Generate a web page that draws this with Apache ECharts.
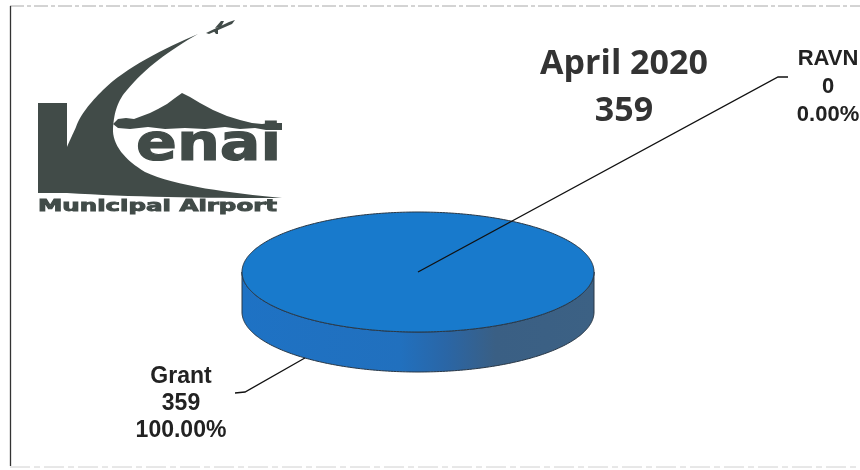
<!DOCTYPE html>
<html>
<head>
<meta charset="utf-8">
<script src="https://cdn.jsdelivr.net/npm/echarts@6/dist/echarts.min.js"></script>
<style>
  html, body { margin: 0; padding: 0; background: #ffffff; }
  #chart { width: 860px; height: 470px; }
</style>
</head>
<body>
<div id="chart"></div>
<script>
// ---- data ----
const categories = ['Grant', 'RAVN'];
const values = [359, 0];
const chartTitle = 'April 2020';

// ---- layout / style ----
const PIE = { cx: 418, cy: 272, rx: 176, ry: 60, depth: 40, startAngle: 40 };
const LABELS = [
  { x: 181, y: 404, lineHeight: 27, font: 'bold 23px "Liberation Sans", Arial, sans-serif', elbow: [245, 392], end: [235, 393] },
  { x: 828, y: 87, lineHeight: 28, font: 'bold 22px "Liberation Sans", Arial, sans-serif', elbow: [778, 77], end: [788, 77] }
];
const TOP_COLOR = '#187acc';
const EDGE_COLOR = '#2a3846';
const LOGO_COLOR = '#414b48';

const total = values.reduce((a, b) => a + b, 0);
const rad = a => a * Math.PI / 180;
function pt(a, dy) {
  return [PIE.cx + PIE.rx * Math.sin(rad(a)), PIE.cy - PIE.ry * Math.cos(rad(a)) + (dy || 0)];
}
function arcPoints(a1, a2, dy) {
  const pts = [];
  const n = Math.max(2, Math.ceil(Math.abs(a2 - a1)));
  for (let k = 0; k <= n; k++) pts.push(pt(a1 + (a2 - a1) * k / n, dy));
  return pts;
}
// cubic-bezier outline helper for the logo
function outline(start, segs) {
  const pts = [start];
  let cur = start;
  segs.forEach(s => {
    if (s.length === 1) { pts.push(s[0]); cur = s[0]; return; }
    const [c1, c2, p] = s;
    for (let k = 1; k <= 16; k++) {
      const t = k / 16, u = 1 - t;
      pts.push([
        u*u*u*cur[0] + 3*u*u*t*c1[0] + 3*u*t*t*c2[0] + t*t*t*p[0],
        u*u*u*cur[1] + 3*u*u*t*c1[1] + 3*u*t*t*c2[1] + t*t*t*p[1]
      ]);
    }
    cur = p;
  });
  return pts;
}

function renderItem(params, api) {
  const i = params.dataIndex;
  const v = api.value(0);
  let before = 0;
  for (let j = 0; j < i; j++) before += values[j];
  const a1 = PIE.startAngle + before / total * 360;
  const a2 = a1 + v / total * 360;
  const children = [];
  if (a2 > a1) {
    [[90, 270], [450, 630]].forEach(r => {
      const s = Math.max(a1, r[0]), e = Math.min(a2, r[1]);
      if (e > s) {
        const pts = arcPoints(s, e, 0).concat(arcPoints(e, s, PIE.depth));
        children.push({
          type: 'polygon',
          shape: { points: pts },
          style: {
            fill: new echarts.graphic.LinearGradient(0, 0, 1, 0, [
              { offset: 0, color: '#1e72c4' },
              { offset: 0.45, color: '#2170be' },
              { offset: 0.58, color: '#2a66a6' },
              { offset: 0.72, color: '#3a5f84' },
              { offset: 1, color: '#3c6184' }
            ]),
            stroke: EDGE_COLOR, lineWidth: 1
          }
        });
      }
    });
    const full = (a2 - a1) >= 359.999;
    const topPts = full ? arcPoints(a1, a2, 0) : [[PIE.cx, PIE.cy]].concat(arcPoints(a1, a2, 0));
    children.push({
      type: 'polygon',
      shape: { points: topPts },
      style: { fill: TOP_COLOR, stroke: EDGE_COLOR, lineWidth: 1 }
    });
  }
  const mid = (a1 + a2) / 2;
  const m = ((mid % 360) + 360) % 360;
  const anchor = v > 0 ? pt(mid, (m > 90 && m < 270) ? PIE.depth : 0) : [PIE.cx, PIE.cy];
  const L = LABELS[i];
  children.push({
    type: 'polyline',
    shape: { points: [anchor, L.elbow, L.end] },
    style: { stroke: '#111', lineWidth: 1.3, fill: null }
  });
  const pct = (total ? v / total * 100 : 0).toFixed(2) + '%';
  children.push({
    type: 'text',
    x: L.x, y: L.y,
    style: {
      text: categories[i] + '\n' + v + '\n' + pct,
      font: L.font,
      fill: '#222',
      align: 'center', verticalAlign: 'middle',
      textAlign: 'center', textVerticalAlign: 'middle',
      lineHeight: L.lineHeight
    }
  });
  return { type: 'group', children: children };
}

const swoosh = outline([198, 34], [
  [[165, 48], [125, 68], [103, 90]],
  [[90, 103], [80, 115], [76, 127]],
  [[72, 136], [69, 142], [67, 147]],
  [[67, 193]],
  [[130, 197], [200, 198], [282, 198]],
  [[230, 193], [175, 186], [145, 172]],
  [[125, 160], [112, 145], [113, 128]],
  [[114, 112], [118, 100], [127, 90]],
  [[145, 68], [170, 50], [198, 34]]
]);
const mountain = [[113,124],[118,119],[126,118],[134,119],[142,116],[150,113],[158,109],[167,104],[175,98],[182,93],[190,97],[200,103],[213,110],[227,116],[240,120],[252,123],[262,124],[270,123],[282,123],[282,130],[266,130],[255,128],[240,129],[225,127],[205,129],[185,128],[165,129],[148,127],[130,129],[118,128]];

const chart = echarts.init(document.getElementById('chart'), null, { renderer: 'canvas' });
chart.setOption({
  backgroundColor: '#ffffff',
  animation: false,
  graphic: [
    { type: 'line', shape: { x1: 10, y1: 6, x2: 860, y2: 6 }, style: { stroke: '#a8a8a8', lineWidth: 1, lineDash: [14, 3, 4, 3] } },
    { type: 'line', shape: { x1: 10.5, y1: 6, x2: 10.5, y2: 466 }, style: { stroke: '#333', lineWidth: 1.3 } },
    { type: 'line', shape: { x1: 10, y1: 467, x2: 860, y2: 467 }, style: { stroke: '#d0d0d0', lineWidth: 1, lineDash: [20, 4, 6, 4] } },
    { type: 'text', x: 624, y: 88, style: { text: chartTitle + '\n' + total, font: 'bold 34px "Open Sans", sans-serif', fill: '#333', align: 'center', verticalAlign: 'middle', textAlign: 'center', textVerticalAlign: 'middle', lineHeight: 47 } },
    // logo
    { type: 'rect', shape: { x: 38, y: 103, width: 29, height: 90 }, style: { fill: LOGO_COLOR } },
    { type: 'polygon', shape: { points: swoosh }, style: { fill: LOGO_COLOR } },
    { type: 'polygon', shape: { points: mountain }, style: { fill: LOGO_COLOR } },
    { type: 'polygon', shape: { points: [[206,33],[229,22],[235,20],[232,24],[209,34]] }, style: { fill: LOGO_COLOR } },
    { type: 'polygon', shape: { points: [[215,28],[221,21],[224,21],[221,27]] }, style: { fill: LOGO_COLOR } },
    { type: 'polygon', shape: { points: [[213,30],[216,34],[218,34],[218,29]] }, style: { fill: LOGO_COLOR } },
    { type: 'text', x: 136, y: 146, scaleX: 1.16, style: { text: 'enai', font: 'bold 52px "DejaVu Sans", sans-serif', fill: LOGO_COLOR, stroke: LOGO_COLOR, lineWidth: 1.2, align: 'left', verticalAlign: 'middle', textAlign: 'left', textVerticalAlign: 'middle' } },
    { type: 'text', x: 38, y: 206.5, scaleX: 1.53, style: { text: 'Municipal Airport', font: 'bold 16px "DejaVu Sans", sans-serif', fill: LOGO_COLOR, stroke: LOGO_COLOR, lineWidth: 0.9, align: 'left', verticalAlign: 'middle', textAlign: 'left', textVerticalAlign: 'middle' } }
  ],
  series: [{
    type: 'custom',
    coordinateSystem: 'none',
    data: values,
    renderItem: renderItem,
    silent: true
  }]
});
</script>
</body>
</html>
